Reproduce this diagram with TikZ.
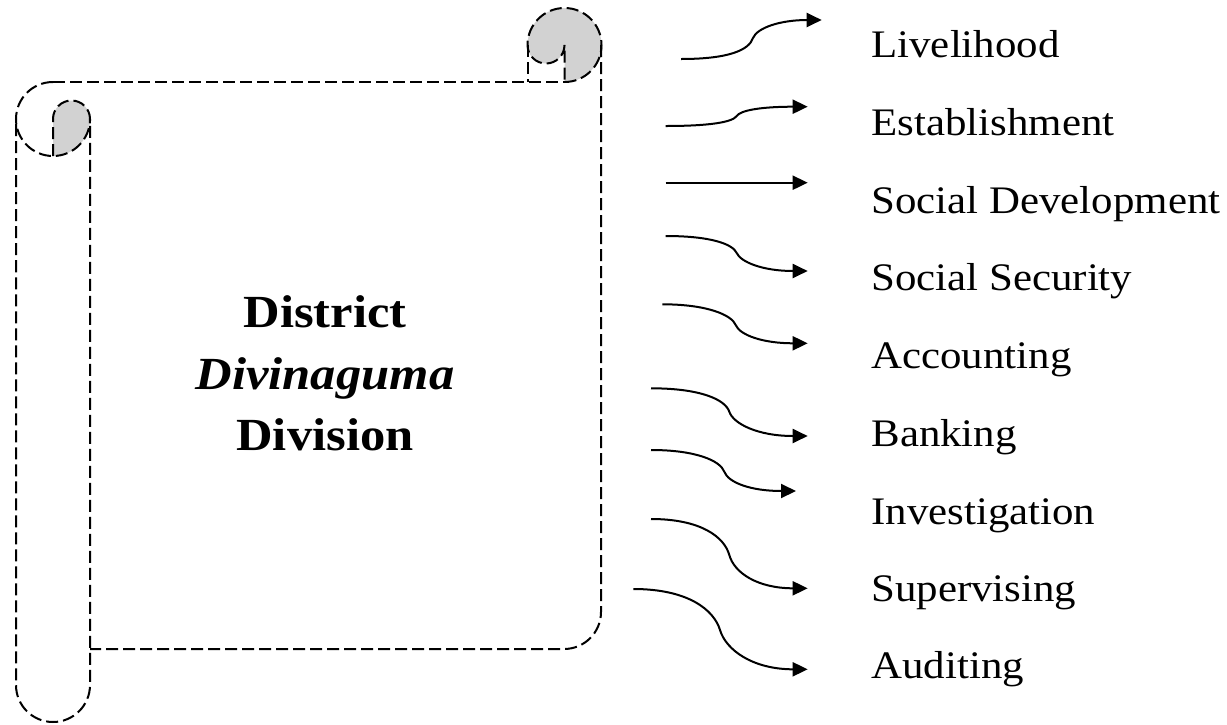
\documentclass[tikz,border=0pt]{standalone}
\usepackage{fontspec}
\usepackage{graphicx}
\setmainfont{Liberation Serif}
\usetikzlibrary{arrows.meta}
\newcommand{\hstretch}[1]{\scalebox{1.1}[1]{#1}}
\tikzset{
  scrollline/.style={draw=black, line width=1pt, dash pattern=on 6pt off 2.5pt},
  rollfill/.style={fill=gray!35},
  lbl/.style={anchor=base west, inner sep=0pt, font=\fontsize{19.5}{23}\selectfont},
  ctr/.style={anchor=base, inner sep=0pt, font=\fontsize{23}{27}\selectfont\bfseries},
  conn/.style={line width=1pt, -{Triangle[length=7.5pt,width=7pt]}},
}
\begin{document}
\begin{tikzpicture}[x=0.5pt,y=-0.5pt]
\useasboundingbox (0,0) rectangle (1227,724);

% ---- scroll: fills
\fill[rollfill] (564.5,82) arc[start angle=90, end angle=-180, radius=37]
   arc[start angle=180, end angle=0, radius=18.5] -- (564.5,82) -- cycle;
\fill[rollfill] (53,156) -- (53,119) arc[start angle=180, end angle=360, radius=18.5]
   arc[start angle=0, end angle=90, radius=37] -- cycle;

% ---- scroll: outlines
\draw[scrollline] (564.5,82) arc[start angle=90, end angle=-180, radius=37]
   arc[start angle=180, end angle=0, radius=18.5] -- (564.5,82);
\draw[scrollline] (527.5,45) -- (527.5,82);
\draw[scrollline] (53,82) -- (564.5,82);
\draw[scrollline] (601,45) -- (601,612) arc[start angle=0, end angle=90, radius=37] -- (90,649);
\draw[scrollline] (53,82) arc[start angle=270, end angle=0, radius=37];
\draw[scrollline] (53,156) -- (53,119) arc[start angle=180, end angle=360, radius=18.5]
   -- (90,685) arc[start angle=0, end angle=180, radius=37] -- (16,119);

% ---- centre text
\node[ctr] (t1) at (325,327) {\hstretch{District}};
\node[ctr] (t2) at (325,389) {\hstretch{\itshape Divinaguma}};
\node[ctr] (t3) at (325,450) {\hstretch{Division}};

% ---- labels
\node[lbl] (l1) at (871,57)    {\hstretch{Livelihood}};
\node[lbl] (l2) at (871,135)   {\hstretch{Establishment}};
\node[lbl] (l3) at (871,213)   {\hstretch{Social Development}};
\node[lbl] (l4) at (871,290)   {\hstretch{Social Security}};
\node[lbl] (l5) at (871,368)   {\hstretch{Accounting}};
\node[lbl] (l6) at (871,446)   {\hstretch{Banking}};
\node[lbl] (l7) at (871,524)   {\hstretch{Investigation}};
\node[lbl] (l8) at (871,601.7) {\hstretch{Supervising}};
\node[lbl] (l9) at (871,678.3) {\hstretch{Auditing}};

% ---- arrow coordinates
\coordinate (s1) at (681,59);    \coordinate (m1) at (753,38);    \coordinate (e1) at (821.7,20);
\coordinate (s2) at (665.7,126); \coordinate (m2) at (736.7,116); \coordinate (e2) at (807.7,106.7);
\coordinate (s3) at (665.7,182.7);                                \coordinate (e3) at (807.7,182.7);
\coordinate (s4) at (665.7,236); \coordinate (m4) at (736.7,253); \coordinate (e4) at (807.7,271);
\coordinate (s5) at (662.3,304.3); \coordinate (m5) at (735.7,325); \coordinate (e5) at (807.7,343.3);
\coordinate (s6) at (651,388.3); \coordinate (m6) at (729.3,411.7); \coordinate (e6) at (807.7,436);
\coordinate (s7) at (651,450);   \coordinate (m7) at (724.3,471.7); \coordinate (e7) at (796,491);
\coordinate (s8) at (651,519);   \coordinate (m8) at (729.3,555); \coordinate (e8) at (807.7,588.3);
\coordinate (s9) at (633.3,589); \coordinate (m9) at (720,630);   \coordinate (e9) at (807.7,669.3);

% ---- arrows
\draw[conn] (s1) .. controls +(48,0) and +(-4,12) .. (m1) .. controls +(4,-10) and +(-42,0) .. (e1);
\draw[conn] (s2) .. controls +(45,0) and +(-4,6) .. (m2) .. controls +(4,-6) and +(-45,0) .. (e2);
\draw[conn] (s3) -- (e3);
\draw[conn] (s4) .. controls +(45,0) and +(-4,-9) .. (m4) .. controls +(4,9) and +(-45,0) .. (e4);
\draw[conn] (s5) .. controls +(45,0) and +(-4,-10) .. (m5) .. controls +(4,10) and +(-45,0) .. (e5);
\draw[conn] (s6) .. controls +(50,0) and +(-4,-12) .. (m6) .. controls +(4,12) and +(-50,0) .. (e6);
\draw[conn] (s7) .. controls +(45,0) and +(-4,-11) .. (m7) .. controls +(4,11) and +(-45,0) .. (e7);
\draw[conn] (s8) .. controls +(50,0) and +(-5,-18) .. (m8) .. controls +(5,18) and +(-50,0) .. (e8);
\draw[conn] (s9) .. controls +(55,0) and +(-6,-20) .. (m9) .. controls +(6,20) and +(-55,0) .. (e9);
\end{tikzpicture}
\end{document}
